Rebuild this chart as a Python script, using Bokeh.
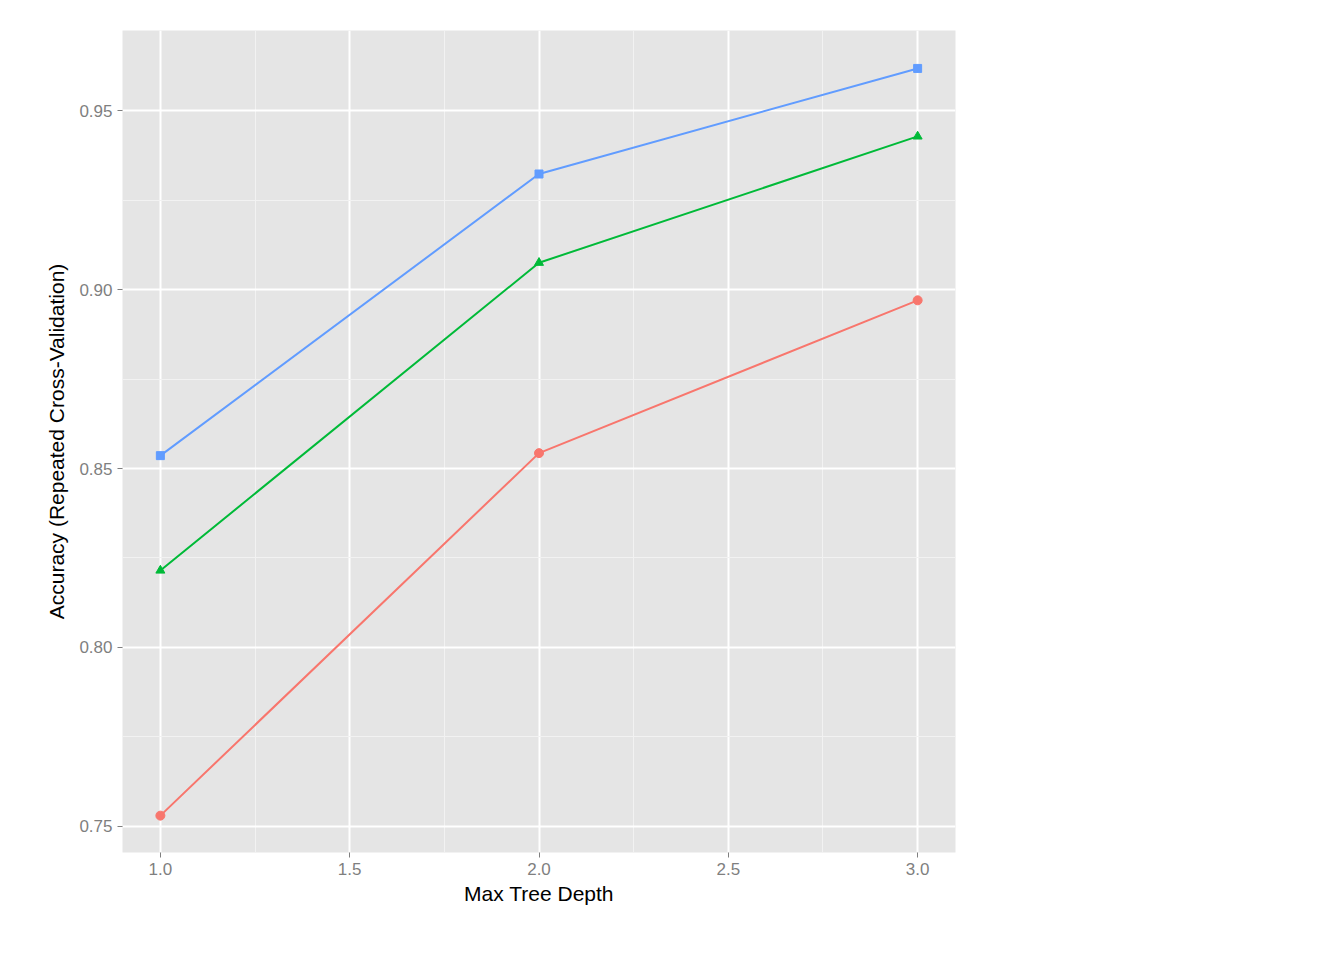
from bokeh.plotting import figure
from bokeh.models import Legend, LegendItem, FixedTicker, NumeralTickFormatter
from bokeh.embed import file_html
from bokeh.resources import INLINE

depth = [1.0, 2.0, 3.0]
acc_50 = [0.753, 0.8543, 0.897]
acc_100 = [0.8215, 0.9075, 0.9428]
acc_150 = [0.8536, 0.9323, 0.9618]
labels = ["50", "100", "150"]
colors = ["#F8766D", "#00BA38", "#619CFF"]
markers = ["circle", "triangle", "square"]

p = figure(width=1328, height=944, output_backend="svg", toolbar_location=None,
           x_range=(0.9, 3.1), y_range=(0.7427, 0.9724),
           min_border_left=122, min_border_top=30, min_border_bottom=92, min_border_right=373)
p.background_fill_color = "#E5E5E5"
p.border_fill_color = "white"
p.outline_line_color = None
for g in (p.xgrid, p.ygrid):
    g.grid_line_color = "white"
    g.grid_line_width = 2
    g.minor_grid_line_color = "#F2F2F2"
    g.minor_grid_line_width = 1
p.xaxis.ticker = FixedTicker(ticks=[1.0, 1.5, 2.0, 2.5, 3.0], minor_ticks=[1.25, 1.75, 2.25, 2.75])
p.yaxis.ticker = FixedTicker(ticks=[0.75, 0.80, 0.85, 0.90, 0.95], minor_ticks=[0.775, 0.825, 0.875, 0.925])
p.xaxis.formatter = NumeralTickFormatter(format="0.0")
p.yaxis.formatter = NumeralTickFormatter(format="0.00")
for ax in (p.xaxis, p.yaxis):
    ax.axis_line_color = None
    ax.major_tick_line_color = "#7F7F7F"
    ax.major_tick_in = 0
    ax.major_tick_out = 5
    ax.minor_tick_line_color = None
    ax.major_label_text_color = "#7F7F7F"
    ax.major_label_text_font_size = "17px"
    ax.major_label_text_font = "Liberation Sans"
    ax.axis_label_text_font = "Liberation Sans"
    ax.axis_label_text_font_size = "21px"
    ax.axis_label_text_font_style = "normal"
    ax.axis_label_text_color = "black"
p.xaxis.axis_label = "Max Tree Depth"
p.yaxis.axis_label = "Accuracy (Repeated Cross-Validation)"
p.xaxis.axis_label_standoff = 4
p.yaxis.axis_label_standoff = 8

items = []
for lab, ys, c, m in zip(labels, [acc_50, acc_100, acc_150], colors, markers):
    l = p.line(depth, ys, line_color=c, line_width=2)
    s = p.scatter(depth, ys, marker=m, size=9 if m != "square" else 8, fill_color=c, line_color=c)
    items.append(LegendItem(label=lab, renderers=[l, s]))

leg = Legend(items=items, title="# Boosting Iterations", location=(862, 318),
             margin=0, padding=6, spacing=4, glyph_width=40, glyph_height=42,
             label_text_font="Liberation Sans", label_text_font_size="20px",
             label_text_color="black", title_text_color="black",
             title_text_font="Liberation Sans", title_text_font_size="20px",
             title_text_font_style="bold", background_fill_alpha=0, border_line_color=None)
p.add_layout(leg, "center")

open("out.html", "w").write(file_html(p, INLINE))
